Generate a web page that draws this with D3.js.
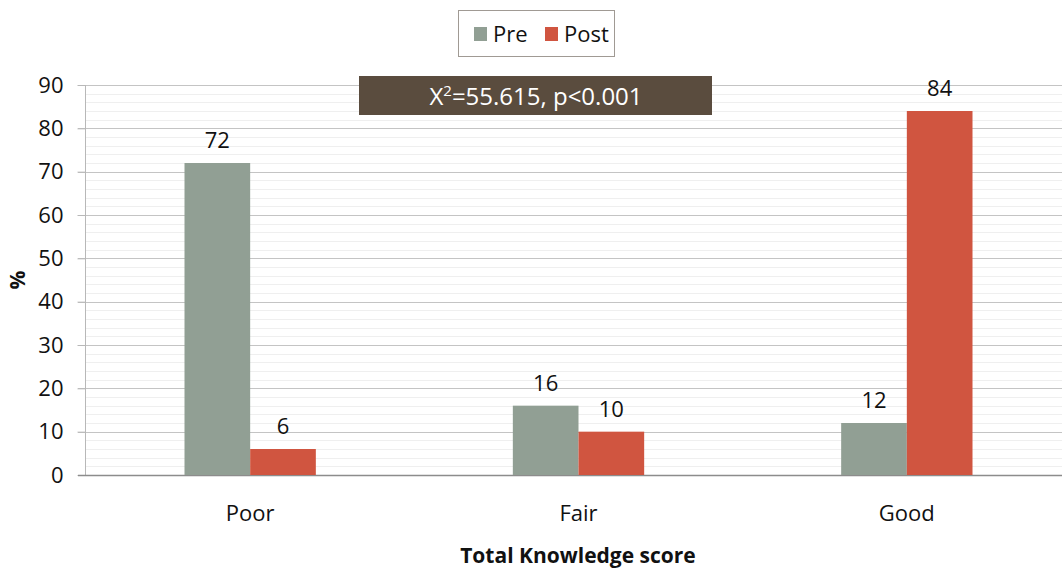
<!DOCTYPE html>
<html>
<head>
<meta charset="utf-8">
<script src="https://cdn.jsdelivr.net/npm/d3@7"></script>
<style>
  body { margin: 0; background: #fff; }
  svg { display: block; font-family: "Open Sans", sans-serif; }
</style>
</head>
<body>
<div id="figure"></div>
<script>
const categories = ['Poor', 'Fair', 'Good'];
const series = ['Pre', 'Post'];
const preValues = [72, 16, 12];
const postValues = [6, 10, 84];
const yTicks = [0, 10, 20, 30, 40, 50, 60, 70, 80, 90];
const annotation = '=55.615, p<0.001';

const width = 1062;
const height = 569;
const margin = { left: 86, right: -9, top: 85, bottom: 94 };

const colors = { Pre: '#919f94', Post: '#d05540' };

const data = categories.map((c, i) => ({ category: c, Pre: preValues[i], Post: postValues[i] }));

const svg = d3.select('#figure')
  .append('svg')
  .attr('width', width)
  .attr('height', height);

const x = d3.scaleBand()
  .domain(categories)
  .range([margin.left, width - margin.right])
  .paddingInner(0)
  .paddingOuter(0);

const xInner = d3.scaleBand()
  .domain(series)
  .range([0, x.bandwidth() * 0.4]);

const y = d3.scaleLinear()
  .domain([0, 90])
  .range([height - margin.bottom, margin.top]);

// minor gridlines
svg.append('g')
  .selectAll('line')
  .data(d3.range(0, 91, 2).filter(v => v % 10 != 0))
  .join('line')
  .attr('x1', margin.left)
  .attr('x2', width)
  .attr('y1', d => Math.round(y(d)) + 0.5)
  .attr('y2', d => Math.round(y(d)) + 0.5)
  .attr('stroke', '#efefef')
  .attr('stroke-width', 1);

// major gridlines
svg.append('g')
  .selectAll('line')
  .data(yTicks.filter(v => v > 0))
  .join('line')
  .attr('x1', margin.left - 8)
  .attr('x2', width)
  .attr('y1', d => Math.round(y(d)) + 0.5)
  .attr('y2', d => Math.round(y(d)) + 0.5)
  .attr('stroke', '#c4c4c4')
  .attr('stroke-width', 1);

// y axis
const yAxis = svg.append('g')
  .attr('transform', `translate(${margin.left - 0.5}, 0)`)
  .call(d3.axisLeft(y).tickValues(yTicks).tickSize(8).tickPadding(14));
yAxis.select('.domain').attr('stroke', '#b8b8b8').attr('d', `M0,${y(90)}V${y(0)}`);
yAxis.selectAll('.tick line').attr('stroke', '#b8b8b8');
yAxis.selectAll('.tick text')
  .attr('font-size', 22)
  .attr('font-family', '"Open Sans", sans-serif')
  .attr('fill', '#111');

// baseline
svg.append('line')
  .attr('x1', margin.left - 8)
  .attr('x2', width)
  .attr('y1', y(0) + 0.5)
  .attr('y2', y(0) + 0.5)
  .attr('stroke', '#8c8c8c')
  .attr('stroke-width', 1.5);

// bars
const groups = svg.append('g')
  .selectAll('g')
  .data(data)
  .join('g')
  .attr('transform', d => `translate(${x(d.category) + x.bandwidth() * 0.3}, 0)`);

groups.selectAll('rect')
  .data(d => series.map(s => ({ key: s, value: d[s] })))
  .join('rect')
  .attr('x', d => xInner(d.key))
  .attr('y', d => y(d.value))
  .attr('width', xInner.bandwidth())
  .attr('height', d => y(0) - y(d.value))
  .attr('fill', d => colors[d.key]);

groups.selectAll('text')
  .data(d => series.map(s => ({ key: s, value: d[s] })))
  .join('text')
  .attr('x', d => xInner(d.key) + xInner.bandwidth() / 2)
  .attr('y', d => y(d.value) - 15)
  .attr('text-anchor', 'middle')
  .attr('font-size', 22)
  .attr('fill', '#111')
  .text(d => d.value);

// category labels
svg.append('g')
  .selectAll('text')
  .data(categories)
  .join('text')
  .attr('x', d => x(d) + x.bandwidth() / 2)
  .attr('y', y(0) + 46)
  .attr('text-anchor', 'middle')
  .attr('font-size', 22)
  .attr('fill', '#111')
  .text(d => d);

// axis titles
svg.append('text')
  .attr('x', 578)
  .attr('y', 563)
  .attr('text-anchor', 'middle')
  .attr('font-size', 21)
  .attr('font-weight', 'bold')
  .attr('fill', '#111')
  .text('Total Knowledge score');

svg.append('text')
  .attr('transform', `translate(25, ${y(45)}) rotate(-90)`)
  .attr('text-anchor', 'middle')
  .attr('font-size', 21)
  .attr('font-weight', 'bold')
  .attr('fill', '#111')
  .text('%');

// annotation box
svg.append('rect')
  .attr('x', 359)
  .attr('y', 76)
  .attr('width', 353)
  .attr('height', 39)
  .attr('fill', '#5a4c3e');

const ann = svg.append('text')
  .attr('x', 536)
  .attr('y', 105)
  .attr('text-anchor', 'middle')
  .attr('font-size', 24)
  .attr('fill', '#fff');
ann.append('tspan').text('X');
ann.append('tspan').attr('dy', -9).attr('font-size', 15).text('2');
ann.append('tspan').attr('dy', 9).text(annotation);

// legend
svg.append('rect')
  .attr('x', 458.5)
  .attr('y', 10.5)
  .attr('width', 156)
  .attr('height', 46)
  .attr('fill', '#fff')
  .attr('stroke', '#a09a94');

const legendX = [474, 545];
series.forEach((s, i) => {
  svg.append('rect')
    .attr('x', legendX[i])
    .attr('y', 27)
    .attr('width', 13)
    .attr('height', 14)
    .attr('fill', colors[s]);
  svg.append('text')
    .attr('x', legendX[i] + 19)
    .attr('y', 42)
    .attr('font-size', 22)
    .attr('fill', '#111')
    .text(s);
});
</script>
</body>
</html>
